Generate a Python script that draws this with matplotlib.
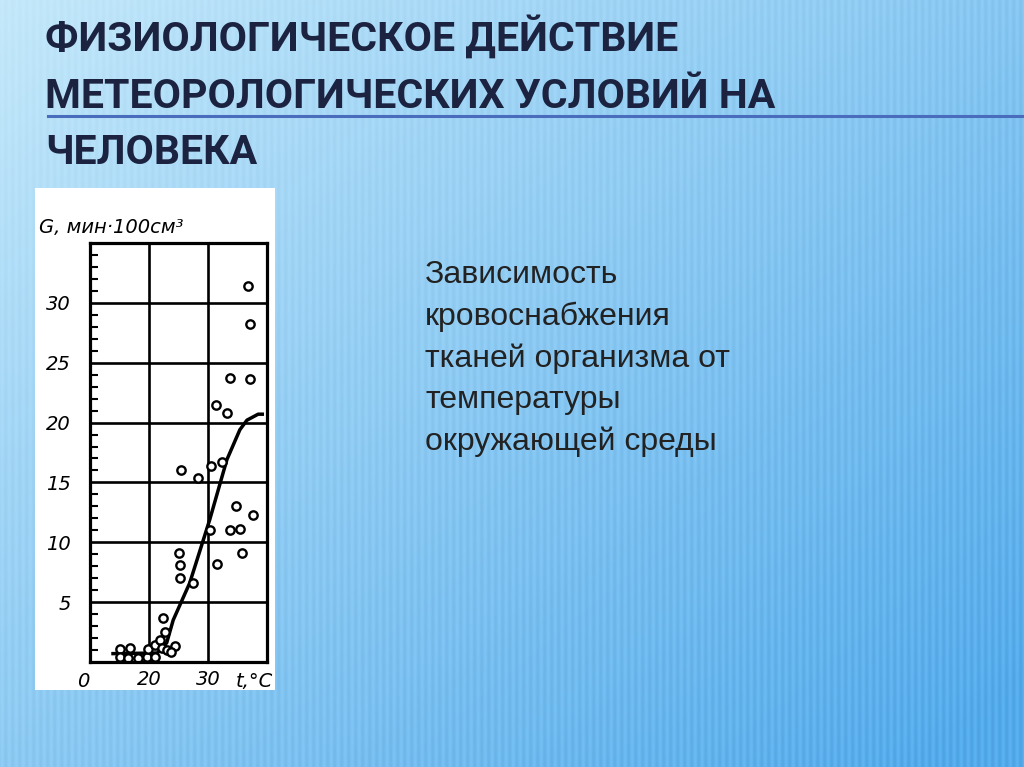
import numpy as np
import matplotlib.pyplot as plt
from matplotlib.lines import Line2D

# data: ambient temperature (deg C) vs blood flow G
temp_pts = [15.1, 16.8, 15.1, 16.5, 18.2, 19.6, 19.9, 21.0, 21.9, 22.7, 22.2, 23.0,
            24.4, 23.8, 21.0, 22.4,
            25.4, 28.3, 30.5, 32.3, 34.7, 37.7, 30.3, 33.8, 35.4, 35.7, 25.1, 25.3,
            31.5, 25.3, 27.5,
            36.7, 37.1, 33.7, 37.2, 31.3, 33.2]
flow_pts = [1.1, 1.15, 0.45, 0.3, 0.3, 0.45, 1.1, 1.4, 1.85, 2.5, 1.15, 1.0,
            1.3, 0.85, 0.45, 3.7,
            16.0, 15.4, 16.4, 16.7, 13.0, 12.3, 11.0, 11.0, 11.1, 9.1, 9.1, 8.1,
            8.2, 7.0, 6.6,
            31.4, 28.2, 23.7, 23.6, 21.5, 20.8]

curve_t = [13.9, 21.4, 23.0, 24.1, 26.9, 30.3, 33.2, 35.4, 36.6, 38.5, 39.2]
curve_g = [0.7, 0.75, 1.6, 3.5, 6.6, 11.9, 16.9, 19.4, 20.2, 20.7, 20.7]

y_ticks = [5, 10, 15, 20, 25, 30]
x_ticks = [20, 30]

title_lines = ["ФИЗИОЛОГИЧЕСКОЕ ДЕЙСТВИЕ", "МЕТЕОРОЛОГИЧЕСКИХ УСЛОВИЙ НА", "ЧЕЛОВЕКА"]
body_lines = ["Зависимость", "кровоснабжения", "тканей организма от",
              "температуры", "окружающей среды"]

W, H = 1024, 767
fig = plt.figure(figsize=(W / 100, H / 100), dpi=100)

# slide background: blue gradient with faint vertical stripes
yy, xx = np.mgrid[0:H, 0:W]
t = np.clip(0.55 * xx / W + 0.5 * yy / H, 0, 1)
light = np.array([0.77, 0.91, 0.98])
dark = np.array([0.33, 0.67, 0.92])
img = light * (1 - t[..., None]) + dark * t[..., None]
stripes = 0.022 * np.sin(2 * np.pi * xx / 7.0) * (0.3 + t)
img = np.clip(img + stripes[..., None], 0, 1)
bg = fig.add_axes([0, 0, 1, 1])
bg.imshow(img, aspect='auto')
bg.axis('off')

# title
for i, line in enumerate(title_lines):
    fig.text(45 / W, 1 - (51 + i * 56.5) / H, line, fontsize=29.5, fontweight='bold',
             color='#1b2340', va='baseline', ha='left',
             family=['Roboto', 'DejaVu Sans'])
fig.add_artist(Line2D([48 / W, 1], [1 - 116 / H] * 2, color='#4a6cbc', lw=2.2))

# right-hand text
for i, line in enumerate(body_lines):
    fig.text(425 / W, 1 - (283 + i * 41.8) / H, line, fontsize=23, color='#222222',
             va='baseline', ha='left', family=['Liberation Sans', 'DejaVu Sans'])

# white card behind the scanned chart
card = fig.add_axes([35 / W, 1 - 690 / H, 240 / W, 502 / H])
card.set_facecolor('white')
card.set_xticks([])
card.set_yticks([])
for s in card.spines.values():
    s.set_visible(False)

ax = fig.add_axes([90 / W, 1 - 662 / H, 177 / W, 419 / H])
ax.set_facecolor('white')
ax.set_xlim(10, 40)
ax.set_ylim(0, 35)
for y in y_ticks:
    ax.axhline(y, color='black', lw=1.9)
for x in x_ticks:
    ax.axvline(x, color='black', lw=1.9)
for s in ax.spines.values():
    s.set_linewidth(2.3)

ax.plot(curve_t, curve_g, color='black', lw=2.5)
ax.plot(temp_pts, flow_pts, 'o', ms=6, mfc='white', mec='black', mew=1.7)

lab_font = dict(family=['DejaVu Sans'], style='italic', size=14)
ax.set_yticks(y_ticks)
ax.set_yticklabels([str(v) for v in y_ticks], **lab_font)
ax.set_yticks(np.arange(1, 35), minor=True)
ax.tick_params(axis='y', which='major', length=0, pad=14)
ax.tick_params(axis='y', which='minor', direction='in', length=6, width=1.5)
ax.set_xticks(x_ticks)
ax.set_xticklabels([str(v) for v in x_ticks], **lab_font)
ax.tick_params(axis='x', which='major', length=0, pad=6)
ax.text(-0.04, -0.025, '0', transform=ax.transAxes, ha='center', va='top', **lab_font)
ax.text(0.93, -0.025, 't,°C', transform=ax.transAxes, ha='center', va='top', **lab_font)
ax.text(-0.29, 1.015, 'G, мин·100см³', transform=ax.transAxes, ha='left', va='bottom',
        **lab_font)

fig.savefig('out.png', dpi=100)
